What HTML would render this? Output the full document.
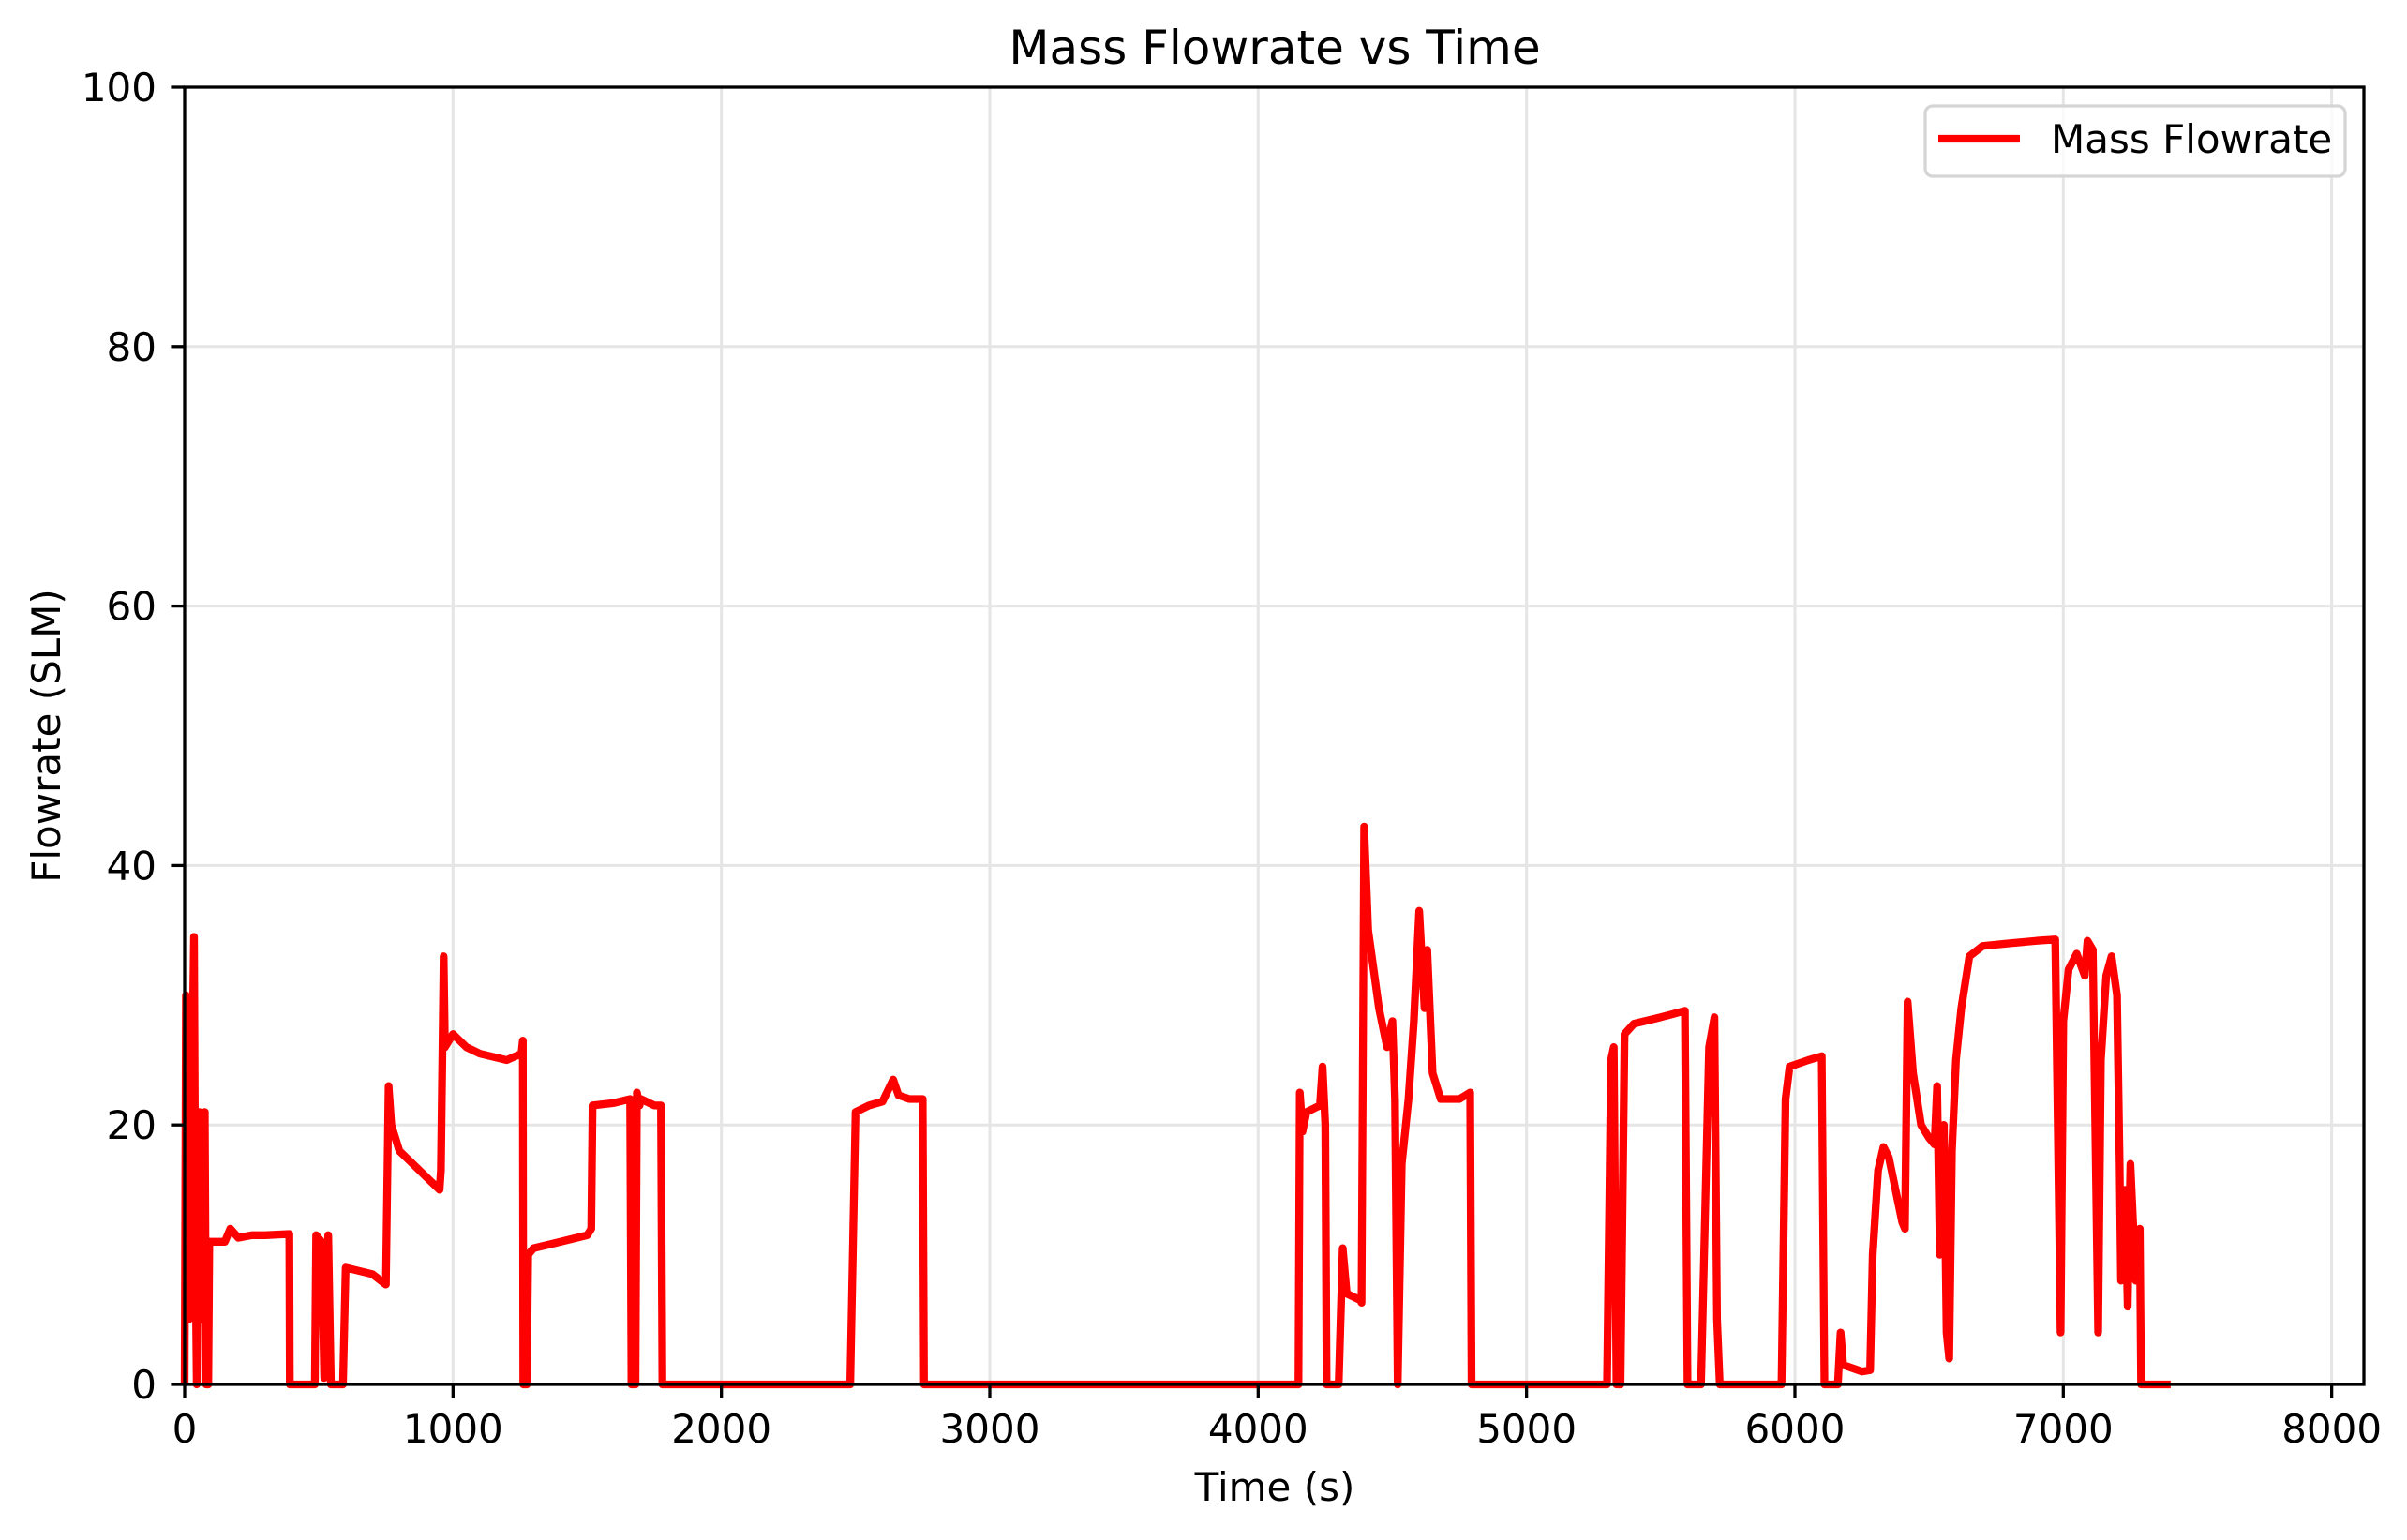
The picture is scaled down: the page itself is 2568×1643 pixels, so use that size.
<!DOCTYPE html>
<html><head><meta charset="utf-8"><style>
body{margin:0;background:#fff;}
svg text{font-family:"DejaVu Sans","Liberation Sans",sans-serif;fill:#000;}
</style></head><body>
<svg id="chart" width="2568" height="1638" viewBox="0 0 2568 1638" xmlns="http://www.w3.org/2000/svg">
<rect width="2568" height="1638" fill="#fff"/>
<g id="grid"></g>
<g id="series"></g>
<rect x="197" y="93" width="2325" height="1384" fill="none" stroke="#000" stroke-width="3.3"/>
<g id="ticks"></g>
<text x="1360" y="68" font-size="50" text-anchor="middle">Mass Flowrate vs Time</text>
<text x="1360" y="1601" font-size="42" text-anchor="middle">Time (s)</text>
<text transform="translate(64,785) rotate(-90)" font-size="42" text-anchor="middle">Flowrate (SLM)</text>
<g>
<rect x="2054" y="113" width="448" height="75" rx="8" fill="#fff" fill-opacity="0.8" stroke="#d5d5d5" stroke-width="3.3"/>
<line x1="2068" y1="148" x2="2155" y2="148" stroke="#ff0000" stroke-width="8.3"/>
<text x="2188" y="163" font-size="42">Mass Flowrate</text>
</g>
</svg>
<script>
const xTicks=[0,1000,2000,3000,4000,5000,6000,7000,8000];
const yTicks=[0,20,40,60,80,100];
const times=[0,5,15,25,35,40,45,55,65,75,80,88,92,150,170,200,250,300,390,392,485,490,510,520,535,545,590,600,700,750,760,770,800,850,900,950,955,965,970,1000,1050,1100,1200,1255,1260,1262,1275,1280,1300,1400,1500,1515,1520,1600,1660,1665,1680,1685,1695,1700,1750,1775,1780,2480,2500,2550,2600,2640,2660,2700,2750,2755,4150,4155,4165,4180,4230,4240,4250,4255,4300,4315,4330,4380,4385,4395,4410,4450,4480,4500,4510,4520,4535,4560,4580,4600,4620,4630,4650,4680,4700,4750,4790,4795,5300,5315,5325,5335,5350,5365,5400,5500,5590,5600,5650,5680,5700,5710,5720,5950,5965,5980,6050,6100,6110,6160,6170,6180,6250,6280,6290,6310,6330,6350,6400,6410,6420,6440,6470,6500,6520,6530,6540,6555,6565,6575,6585,6600,6620,6650,6700,6800,6900,6970,6990,7000,7020,7050,7080,7090,7110,7130,7140,7160,7180,7200,7210,7215,7230,7240,7250,7270,7285,7290,7400];
const flows=[0,30,5,20,34.5,10,0,21,5,21,0,0,11,11,12,11.3,11.5,11.5,11.6,0,0,11.5,11,0.5,11.5,0,0,9,8.5,7.7,23,20,18,17,16,15,16.5,33,26,27,26,25.5,25,25.5,26.5,0,0,10,10.5,11,11.5,12,21.5,21.7,22,0,0,22.5,21.5,22,21.5,21.5,0,0,21,21.5,21.8,23.5,22.3,22,22,0,0,22.5,19.5,21,21.5,24.5,20,0,0,10.5,7,6.5,6.3,43,35,29,26,28,22,0,17,22,28,36.5,29,33.5,24,22,22,22,22.5,0,0,25,26,0,0,27,27.8,28.3,28.8,0,0,26,28.3,5,0,0,22,24.5,25,25.3,0,0,4,1.5,1,1.1,10,16.5,18.3,17.5,12.5,12,29.5,24,20,19,18.5,23,10,20,4,2,18,25,29,33,33.8,34,34.2,34.3,4,28,32,33.2,31.5,34.2,33.5,4,25,31.5,33,30,17,8,15,6,17,8,12,0,0];
const L=197,R=2522,T=93,B=1477,XMAX=8120,YMAX=100;
const xs=v=>L+(R-L)*v/XMAX, ys=v=>B-(B-T)*v/YMAX;
const NS="http://www.w3.org/2000/svg";
const grid=document.getElementById('grid'),ticks=document.getElementById('ticks');
function mk(tag,attrs,parent){const e=document.createElementNS(NS,tag);for(const k in attrs)e.setAttribute(k,attrs[k]);parent.appendChild(e);return e;}
xTicks.forEach(t=>{
  const g=mk('line',{x1:xs(t),x2:xs(t),y1:T,y2:B,stroke:'#e5e5e5','stroke-width':3},grid);
  
  
  const tk=mk('line',{x1:xs(t),x2:xs(t),y1:B,y2:B+14.6,stroke:'#000','stroke-width':3.3},ticks);
  
  
  const tx=mk('text',{x:xs(t),y:B+62,'font-size':42,'text-anchor':'middle'},ticks);
  tx.textContent=t;
  
  
});
yTicks.forEach(t=>{
  const g=mk('line',{x1:L,x2:R,y1:ys(t),y2:ys(t),stroke:'#e5e5e5','stroke-width':3},grid);
  
  
  const tk=mk('line',{x1:L-14.6,x2:L,y1:ys(t),y2:ys(t),stroke:'#000','stroke-width':3.3},ticks);
  
  
  const tx=mk('text',{x:L-30,y:ys(t)+15,'font-size':42,'text-anchor':'end'},ticks);
  tx.textContent=t;
  
  
});
const d=times.map((t,i)=>(i?'L':'M')+xs(t).toFixed(1)+','+ys(flows[i]).toFixed(1)).join('');
const p=mk('path',{d:d,fill:'none',stroke:'#ff0000','stroke-width':8.3,'stroke-linejoin':'round'},document.getElementById('series'));


</script>
</body></html>
